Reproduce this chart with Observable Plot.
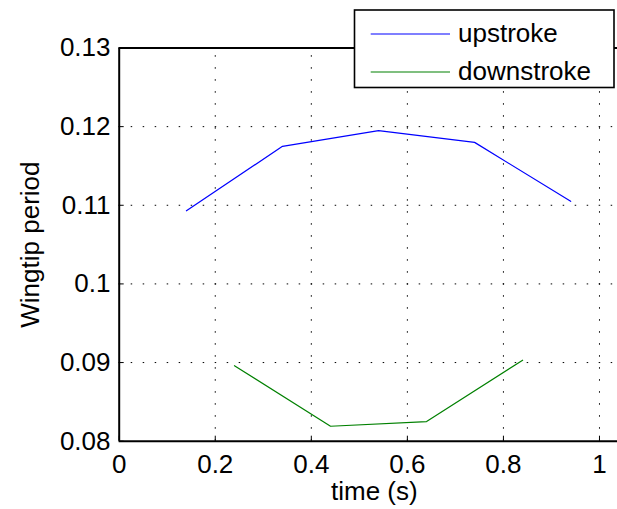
<!DOCTYPE html>
<html>
<head>
<meta charset="utf-8">
<script src="https://cdn.jsdelivr.net/npm/d3@7"></script>
<script src="https://cdn.jsdelivr.net/npm/@observablehq/plot@0.6"></script>
<style>
  html, body { margin: 0; padding: 0; background: #fff; }
  #chart { width: 617px; height: 509px; overflow: hidden; }
</style>
</head>
<body>
<div id="chart"></div>
<script>
// Wingtip period over one stroke cycle
const upTime = [0.14, 0.34, 0.54, 0.74, 0.94];
const upPeriod = [0.1093, 0.1175, 0.1195, 0.1180, 0.1105];
const downTime = [0.24, 0.44, 0.64, 0.84];
const downPeriod = [0.0896, 0.0819, 0.0825, 0.0903];

const seriesNames = ["upstroke", "downstroke"];
const seriesColors = ["#0000ff", "#008000"];

const xTicks = [0, 0.2, 0.4, 0.6, 0.8, 1];
const xTickLabels = ["0", "0.2", "0.4", "0.6", "0.8", "1"];
const yTicks = [0.08, 0.09, 0.1, 0.11, 0.12, 0.13];
const yTickLabels = ["0.08", "0.09", "0.1", "0.11", "0.12", "0.13"];

const xDomain = [0, 1.0625];
const yDomain = [0.08, 0.13];
const xLabel = "time (s)";
const yLabel = "Wingtip period";

const up = upTime.map((t, i) => ({t, p: upPeriod[i]}));
const down = downTime.map((t, i) => ({t, p: downPeriod[i]}));

const font = "'Liberation Sans', Arial, Helvetica, sans-serif";
const dots = "1.5,10.5";

const chart = Plot.plot({
  width: 617,
  height: 509,
  marginLeft: 0, marginRight: 0, marginTop: 0, marginBottom: 0,
  x: {domain: xDomain, range: [118.7, 629], axis: null},
  y: {domain: yDomain, range: [440.7, 47.5], axis: null},
  style: {fontFamily: font, fontSize: "26px", background: "#fff", color: "#000"},
  marks: [
    // dotted grid
    Plot.ruleX(xTicks.slice(1), {x: d => d, y1: yDomain[0], y2: yDomain[1], stroke: "#000", strokeWidth: 1, strokeDasharray: dots}),
    Plot.ruleY(yTicks.slice(1, -1), {y: d => d, x1: xDomain[0], x2: xDomain[1], stroke: "#000", strokeWidth: 1, strokeDasharray: dots}),
    // inward tick marks
    Plot.ruleX(xTicks, {x: d => d, y1: yDomain[0], y2: yDomain[0], insetBottom: 5, stroke: "#000", strokeWidth: 1}),
    Plot.ruleY(yTicks, {y: d => d, x1: xDomain[0], x2: xDomain[0], insetRight: -5, stroke: "#000", strokeWidth: 1}),
    // axes box
    Plot.ruleX([xDomain[0], xDomain[1]], {x: d => d, y1: yDomain[0], y2: yDomain[1], stroke: "#000", strokeWidth: 2}),
    Plot.ruleY([yDomain[0], yDomain[1]], {y: d => d, x1: xDomain[0], x2: xDomain[1], stroke: "#000", strokeWidth: 2}),
    // series
    Plot.line(up, {x: "t", y: "p", stroke: seriesColors[0], strokeWidth: 1.2}),
    Plot.line(down, {x: "t", y: "p", stroke: seriesColors[1], strokeWidth: 1.2}),
    // tick labels
    Plot.text(xTicks, {x: d => d, y: yDomain[0], text: (d, i) => xTickLabels[i], dy: 23.3, fill: "#000"}),
    Plot.text(yTicks, {x: xDomain[0], y: d => d, text: (d, i) => yTickLabels[i], textAnchor: "end", dx: -8.7, fill: "#000"}),
    // axis titles
    Plot.text([xLabel], {x: (xDomain[0] + xDomain[1]) / 2, y: yDomain[0], text: d => d, dy: 50, fill: "#000"}),
    Plot.text([yLabel], {frameAnchor: "left", y: (yDomain[0] + yDomain[1]) / 2, text: d => d, rotate: -90, textAnchor: "middle", dx: 30, fill: "#000"})
  ]
});

// legend box in the upper right
const svg = d3.select(chart);
const lg = svg.append("g")
  .attr("font-family", font).attr("font-size", 26).attr("text-anchor", "start");
lg.append("rect")
  .attr("x", 354.5).attr("y", 10).attr("width", 259.5).attr("height", 77.5)
  .attr("fill", "#fff").attr("stroke", "#000").attr("stroke-width", 1.6);
seriesNames.forEach((name, i) => {
  const cy = 34 + i * 38;
  lg.append("line").attr("x1", 370.7).attr("x2", 450).attr("y1", cy).attr("y2", cy)
    .attr("stroke", seriesColors[i]).attr("stroke-width", 1.2);
  lg.append("text").attr("x", 458).attr("y", cy).attr("dy", "0.32em")
    .attr("fill", "#000").text(name);
});

document.getElementById("chart").appendChild(chart);
</script>
</body>
</html>
